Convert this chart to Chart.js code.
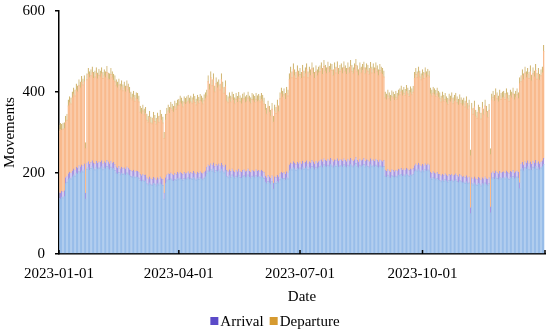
<!DOCTYPE html>
<html>
<head>
<meta charset="utf-8">
<script src="https://cdn.jsdelivr.net/npm/chart.js@4"></script>
<style>
html,body{margin:0;padding:0;background:#fff;}
#wrap{width:550px;height:333px;position:relative;}
</style>
</head>
<body>
<div id="wrap"><canvas id="c" width="550" height="333"></canvas></div>
<script>
// Daily values for 2023 (Jan 1 .. Dec 31)
const arrival = [
// Jan
152,150,155,153,156,188,192,198,202,200,205,210,207,214,212,218,215,220,217,222,150,224,228,221,226,230,225,222,229,224,227,
// Feb
226,230,223,228,225,231,227,222,229,224,226,221,215,212,216,210,214,211,213,209,215,212,208,206,204,207,203,205,
// Mar
204,202,196,193,197,194,195,188,185,190,186,184,189,187,183,188,185,190,186,184,150,188,195,198,196,200,197,194,199,196,201,
// Apr
198,202,199,196,201,198,200,203,198,201,199,204,200,197,202,199,203,200,198,202,205,214,220,217,223,219,225,216,221,218,
// May
222,217,224,219,215,220,206,203,208,204,210,205,202,207,203,209,204,201,206,208,203,205,210,204,202,207,205,203,208,204,206,
// Jun
203,207,204,201,192,188,194,190,187,193,175,191,189,194,190,198,202,199,201,197,203,200,220,225,222,228,224,221,226,223,
// Jul
227,222,229,224,226,230,223,228,225,231,227,222,229,225,228,230,233,228,235,231,229,234,230,236,232,228,233,231,235,229,232,
// Aug
233,229,235,231,228,234,230,236,232,229,233,238,231,227,234,230,232,236,229,233,231,228,235,230,233,229,234,231,227,232,230,
// Sep
228,231,207,204,209,205,202,208,206,203,207,205,209,208,211,206,210,207,212,209,206,210,208,211,218,222,219,224,220,217,
// Oct
221,218,223,219,222,220,202,199,203,200,198,201,197,196,193,197,194,198,195,192,196,194,197,193,195,198,194,191,196,193,190,
// Nov
192,189,193,188,190,114,188,185,190,186,184,189,187,183,188,185,190,186,184,188,116,200,203,199,205,201,198,204,200,202,
// Dec
203,200,205,201,199,204,202,206,200,203,205,201,176,222,226,220,228,224,230,223,227,221,229,225,231,224,228,222,227,230,236
];
const departure = [
// Jan
166,172,165,170,168,152,153,182,186,185,195,200,198,206,203,212,210,218,215,218,125,221,230,229,229,232,223,230,231,223,229,
// Feb
226,230,225,227,225,232,220,223,229,226,218,219,215,213,216,210,214,207,212,206,213,208,204,194,191,195,189,193,
// Mar
192,188,169,167,171,164,167,157,155,162,152,152,161,155,152,160,155,165,159,154,150,157,165,170,166,175,173,171,179,176,179,
// Apr
184,188,186,182,187,186,188,189,187,189,187,191,189,186,190,188,191,190,187,191,193,191,220,203,227,211,220,199,214,207,
// May
208,203,221,206,197,208,186,185,190,186,190,189,184,190,186,190,187,184,189,190,185,187,190,186,184,189,188,186,189,187,188,
// Jun
187,189,188,184,178,172,184,175,168,179,165,177,173,186,176,200,208,203,207,199,209,205,225,237,228,242,231,227,239,229,
// Jul
231,226,237,228,234,240,227,234,230,241,233,226,236,230,234,235,239,230,243,235,231,240,233,234,236,227,239,231,240,229,234,
// Aug
237,231,240,234,230,238,232,242,234,231,237,242,234,228,238,232,236,238,231,237,235,230,238,232,237,231,238,234,228,236,232,
// Sep
230,221,193,191,196,193,190,195,194,191,195,192,196,200,204,199,202,199,204,201,198,203,200,203,230,236,231,238,232,228,
// Oct
234,230,237,231,234,232,208,206,209,208,206,209,205,202,197,203,198,198,193,192,199,196,201,193,197,199,194,191,197,193,190,
// Nov
193,189,195,184,190,143,184,175,188,169,166,179,175,165,187,173,190,179,168,182,144,195,199,193,203,197,192,201,196,198,
// Dec
199,196,203,197,193,201,198,204,195,199,203,197,259,218,229,225,234,226,228,225,238,221,231,227,237,222,230,222,228,232,279
];
const seriesNames = ['Arrival', 'Departure'];
const tickDays = [0, 90, 181, 273];
const tickLabels = ['2023-01-01', '2023-04-01', '2023-07-01', '2023-10-01'];
const yTicks = [0, 200, 400, 600];

const FONT = 'Liberation Serif, Times New Roman, serif';
const fillColors = ['#98bde9', '#f9ba8d'];
const capColors = ['#a595e0', '#d3b978'];
const legendColors = ['#5b4ac8', '#d69a30'];

const toXY = arr => arr.map((v, i) => ({x: i, y: v}));

const insideTicks = {
  id: 'insideTicks',
  afterDraw(chart) {
    const {ctx, chartArea} = chart;
    const xs = chart.scales.x;
    ctx.save();
    ctx.strokeStyle = '#000';
    ctx.lineWidth = 1.5;
    [...tickDays, 365].forEach(d => {
      const px = xs.getPixelForValue(d);
      ctx.beginPath();
      ctx.moveTo(px, chartArea.bottom);
      ctx.lineTo(px, chartArea.bottom - 4);
      ctx.stroke();
    });
    ctx.restore();
  }
};

const customLegend = {
  id: 'customLegend',
  afterDraw(chart) {
    const {ctx} = chart;
    ctx.save();
    ctx.font = '15px ' + FONT;
    ctx.textBaseline = 'middle';
    ctx.fillStyle = '#000';
    const box = 8, gap = 2, itemGap = 6;
    const names = chart.data.datasets.map(d => d.label);
    const widths = names.map(n => ctx.measureText(n).width);
    let total = 0;
    widths.forEach((w, i) => { total += box + gap + w + (i < widths.length - 1 ? itemGap : 0); });
    let x = chart.width / 2 - total / 2;
    const cy = 321;
    names.forEach((n, i) => {
      ctx.fillStyle = legendColors[i];
      ctx.fillRect(x, cy - box / 2, box, box);
      x += box + gap;
      ctx.fillStyle = '#000';
      ctx.fillText(n, x, cy + 1);
      x += widths[i] + itemGap;
    });
    ctx.restore();
  }
};

new Chart(document.getElementById('c'), {
  type: 'bar',
  data: {
    datasets: [
      {label: seriesNames[0], data: toXY(arrival), backgroundColor: fillColors[0], borderColor: capColors[0],
       borderWidth: {top: 6, right: 0, bottom: 0, left: 0}, borderSkipped: false},
      {label: seriesNames[1], data: toXY(departure), backgroundColor: fillColors[1], borderColor: capColors[1],
       borderWidth: {top: 6, right: 0, bottom: 0, left: 0}, borderSkipped: false}
    ]
  },
  options: {
    responsive: false,
    animation: false,
    devicePixelRatio: 1,
    layout: {padding: {top: 11, right: 5, bottom: 24, left: 0}},
    datasets: {bar: {categoryPercentage: 1, barPercentage: 1, inflateAmount: 0.5}},
    plugins: {legend: {display: false}, tooltip: {enabled: false}},
    scales: {
      x: {
        type: 'linear', stacked: true, min: 0, max: 365, offset: false,
        afterBuildTicks: s => { s.ticks = tickDays.map(v => ({value: v})); },
        afterFit: s => { s.height = 55; s.paddingLeft = 0; s.paddingRight = 0; },
        grid: {display: false},
        border: {display: true, color: '#000', width: 1.5},
        ticks: {
          autoSkip: false, maxRotation: 0, padding: 3, color: '#000',
          font: {family: FONT, size: 15},
          callback: v => tickLabels[tickDays.indexOf(v)]
        },
        title: {display: true, text: 'Date', color: '#000', font: {family: FONT, size: 15}, padding: {top: 0, bottom: 3}}
      },
      y: {
        stacked: true, min: 0, max: 600,
        afterBuildTicks: s => { s.ticks = yTicks.map(v => ({value: v})); },
        afterFit: s => { s.width = 59; s.paddingTop = 0; s.paddingBottom = 0; },
        grid: {display: true, drawOnChartArea: false, drawTicks: true, tickLength: 4, color: '#000', lineWidth: 1.5},
        border: {display: true, color: '#000', width: 1.5},
        ticks: {padding: 10, color: '#000', font: {family: FONT, size: 15}},
        title: {display: true, text: 'Movements', color: '#000', font: {family: FONT, size: 15}, padding: {top: 1, bottom: 0}}
      }
    }
  },
  plugins: [insideTicks, customLegend]
});
</script>
</body>
</html>
